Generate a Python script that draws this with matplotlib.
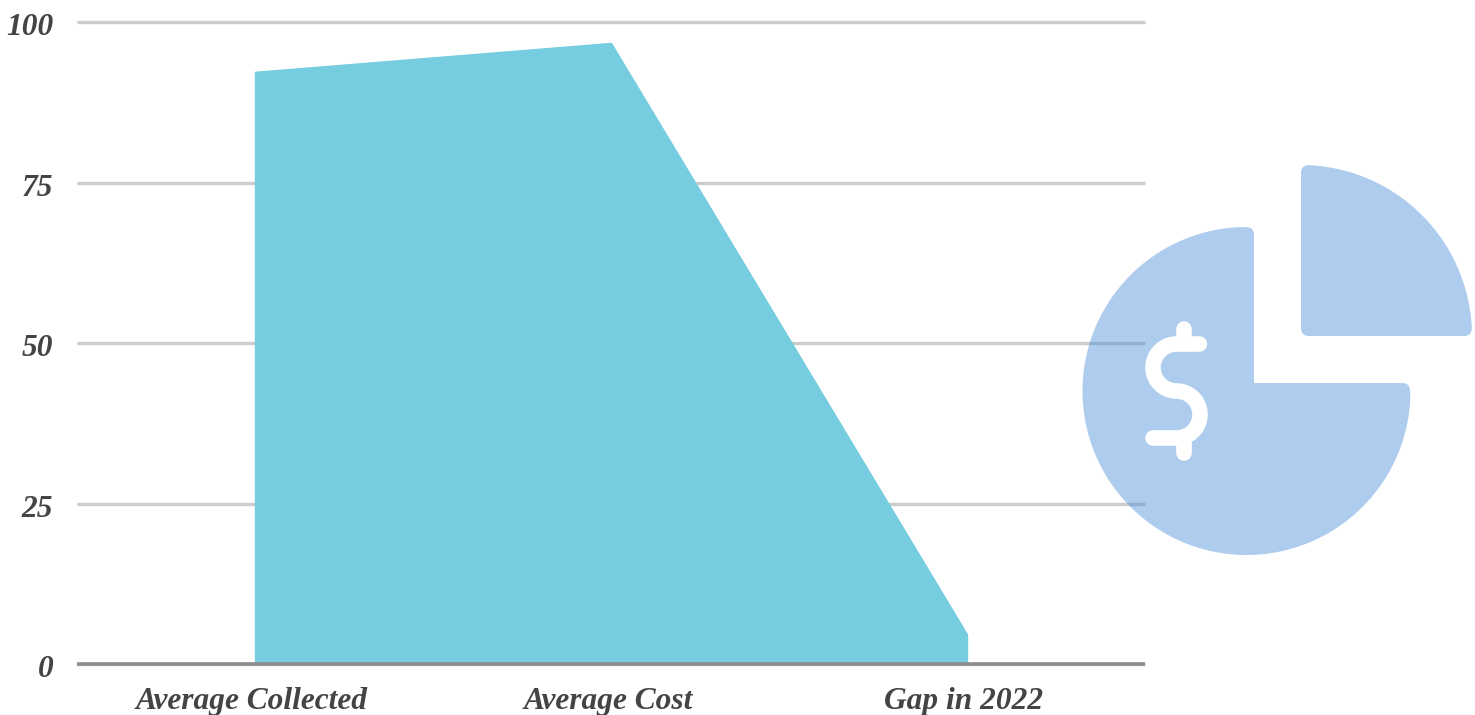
import numpy as np
import matplotlib
matplotlib.use('Agg')
import matplotlib.pyplot as plt
import matplotlib.transforms as mtrans
from matplotlib.path import Path
from matplotlib.patches import PathPatch

# data
categories = ['Average Collected', 'Average Cost', 'Gap in 2022']
values = [92.3, 96.8, 4.7]
y_ticks = [0, 25, 50, 75, 100]

W, H = 1475, 715
AREA = '#76cde0'
ICON = '#4d90db'
ICON_ALPHA = 0.45
TEXT = '#444444'


def rounded(points, r):
    # polygon with rounded corners, r is per point
    verts, codes = [], []
    n = len(points)
    for i in range(n):
        p = np.array(points[i], float)
        a = np.array(points[i - 1], float)
        b = np.array(points[(i + 1) % n], float)
        if r[i] == 0:
            verts.append(p)
            codes.append(Path.LINETO if i else Path.MOVETO)
            continue
        p1 = p + (a - p) / np.linalg.norm(a - p) * r[i]
        p2 = p + (b - p) / np.linalg.norm(b - p) * r[i]
        verts += [p1, p, p2]
        codes += [Path.LINETO if i else Path.MOVETO, Path.CURVE3, Path.CURVE3]
    verts.append(verts[0])
    codes.append(Path.CLOSEPOLY)
    return Path(verts, codes)


def arc(cx, cy, rad, a0, a1, n=60):
    t = np.radians(np.linspace(a0, a1, n))
    return [(cx + rad * np.cos(s), cy + rad * np.sin(s)) for s in t]


def draw_icon(ov):
    # upper right slice
    pts = [(1301, 336), (1301, 165)] + arc(1301, 336, 171, -88, -2) + [(1472, 336)]
    r = [8, 8] + [0] * 60 + [8]
    ov.add_patch(PathPatch(rounded(pts, r), fc=ICON, ec='none', alpha=ICON_ALPHA, zorder=5))
    # big slice with the notch
    pts = [(1254, 227)] + [(1254, 383), (1410, 383)] + arc(1246.5, 391, 164, 3, 267, 140)
    r = [8, 0, 8] + [0] * 140
    ov.add_patch(PathPatch(rounded(pts, r), fc=ICON, ec='none', alpha=ICON_ALPHA, zorder=5))
    # dollar sign
    s = [(1199.5, 344), (1176.5, 344)] + arc(1176.5, 367.5, 23.5, -90, -270, 40)
    s += arc(1176.5, 414.5, 23.5, -90, 90, 40) + [(1153, 438)]
    kw = dict(color='white', lw=11.2, solid_capstyle='round', solid_joinstyle='round', zorder=6)
    ov.plot(*zip(*s), **kw)
    ov.plot([1184, 1184], [329, 344], **kw)
    ov.plot([1184, 1184], [438, 453], **kw)


def main():
    plt.rcParams['font.family'] = ['Liberation Serif', 'DejaVu Serif']
    fig = plt.figure(figsize=(W / 100, H / 100), dpi=100)
    ax = fig.add_axes([77 / W, 1 - 664.4 / H, (1145 - 77) / W, (664.4 - 22.4) / H])

    x = np.arange(len(categories))
    ax.fill_between(x, 0, values, color=AREA, lw=1.0, joinstyle='round', zorder=3)

    ax.set_xlim(-0.5, 2.5)
    ax.set_ylim(0, 100)
    ax.set_yticks(y_ticks)
    ax.set_xticks(x)
    ax.set_xticklabels(categories)
    ax.grid(axis='y', color='#cccccc', lw=2.4, zorder=1, clip_on=False, solid_capstyle='butt')
    ax.set_axisbelow(True)
    for name in ['top', 'right', 'left']:
        ax.spines[name].set_visible(False)
    ax.spines['bottom'].set_color('#8c8c8c')
    ax.spines['bottom'].set_linewidth(2.6)
    ax.spines['bottom'].set_capstyle('butt')
    ax.spines['bottom'].set_zorder(4)
    ax.tick_params(length=0)
    ax.tick_params(axis='y', pad=17)
    ax.tick_params(axis='x', pad=16)
    # labels sit a bit lower / left of the ticks in the original
    down = mtrans.ScaledTranslation(0, -2 / 100, fig.dpi_scale_trans)
    for lab in ax.get_yticklabels():
        lab.set_transform(lab.get_transform() + down)
    left = mtrans.ScaledTranslation(-3 / 100, 0, fig.dpi_scale_trans)
    for lab in ax.get_xticklabels():
        lab.set_transform(lab.get_transform() + left)
    for lab in ax.get_xticklabels() + ax.get_yticklabels():
        lab.set_fontsize(22.6)
        lab.set_fontweight('bold')
        lab.set_fontstyle('italic')
        lab.set_color(TEXT)

    # overlay in pixel coordinates for the icon
    ov = fig.add_axes([0, 0, 1, 1], facecolor='none')
    ov.set_xlim(0, W)
    ov.set_ylim(H, 0)
    ov.axis('off')
    draw_icon(ov)

    fig.savefig('out.png', dpi=100)


if __name__ == "__main__":
    main()
